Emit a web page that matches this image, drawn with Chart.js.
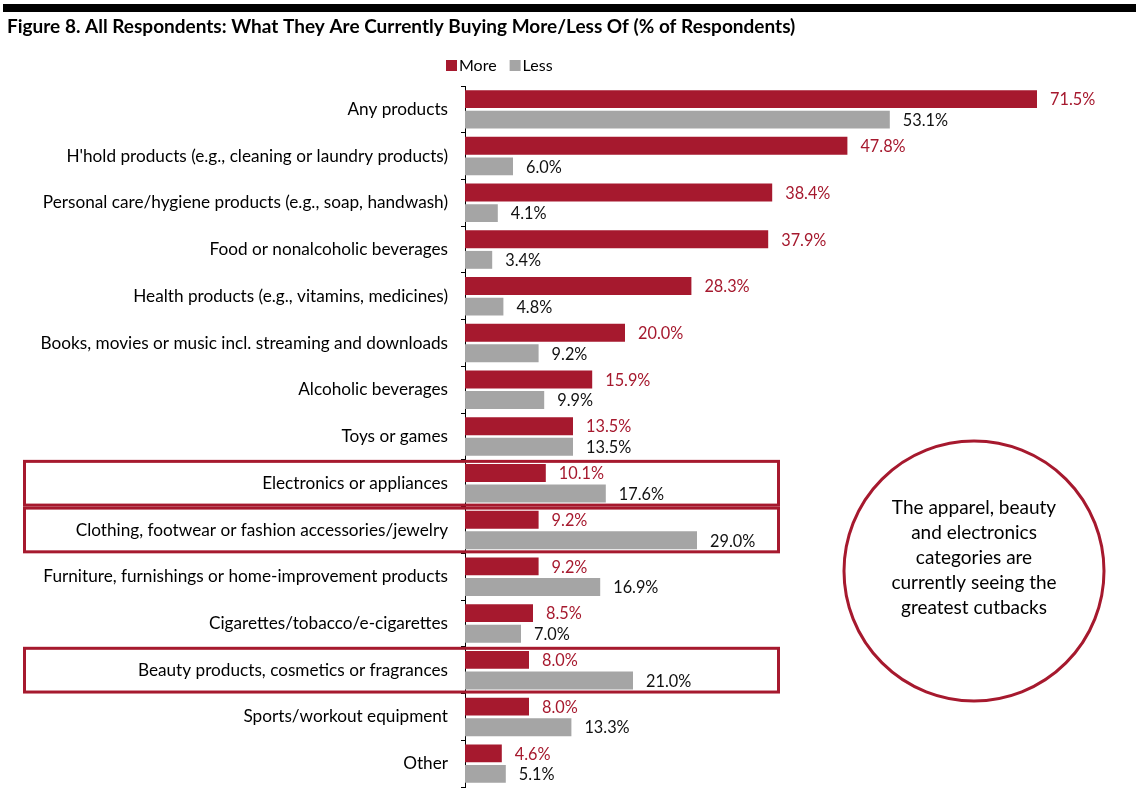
<!DOCTYPE html>
<html>
<head>
<meta charset="utf-8">
<script src="https://cdn.jsdelivr.net/npm/chart.js@4.4.1/dist/chart.umd.min.js"></script>
<style>
  html, body { margin: 0; padding: 0; background: #fff; }
  #wrap { width: 1136px; height: 794px; position: relative; }
</style>
</head>
<body>
<div id="wrap"><canvas id="c" width="1136" height="794"></canvas></div>
<script>
const categories = [
  "Any products",
  "H'hold products (e.g., cleaning or laundry products)",
  "Personal care/hygiene products (e.g., soap, handwash)",
  "Food or nonalcoholic beverages",
  "Health products (e.g., vitamins, medicines)",
  "Books, movies or music incl. streaming and downloads",
  "Alcoholic beverages",
  "Toys or games",
  "Electronics or appliances",
  "Clothing, footwear or fashion accessories/jewelry",
  "Furniture, furnishings or home-improvement products",
  "Cigarettes/tobacco/e-cigarettes",
  "Beauty products, cosmetics or fragrances",
  "Sports/workout equipment",
  "Other"
];
const moreValues = [71.5, 47.8, 38.4, 37.9, 28.3, 20.0, 15.9, 13.5, 10.1, 9.2, 9.2, 8.5, 8.0, 8.0, 4.6];
const lessValues = [53.1, 6.0, 4.1, 3.4, 4.8, 9.2, 9.9, 13.5, 17.6, 29.0, 16.9, 7.0, 21.0, 13.3, 5.1];
const seriesNames = ["More", "Less"];
const highlighted = ["Electronics or appliances", "Clothing, footwear or fashion accessories/jewelry", "Beauty products, cosmetics or fragrances"];
const titleText = "Figure 8. All Respondents: What They Are Currently Buying More/Less Of (% of Respondents)";
const calloutLines = ["The apparel, beauty", "and electronics", "categories are", "currently seeing the", "greatest cutbacks"];

const RED = "#A6192E";
const GRAY = "#A5A5A5";
const FONT = "Lato, 'Open Sans', sans-serif";

const decor = {
  id: 'decor',
  beforeDraw(chart) {
    const ctx = chart.ctx;
    ctx.save();
    ctx.fillStyle = "#000";
    ctx.fillRect(3, 4, 1133, 8);
    ctx.font = "bold 19px " + FONT;
    ctx.fillStyle = "#000";
    ctx.textBaseline = "middle";
    ctx.textAlign = "left";
    ctx.fillText(titleText, 7, 27);
    ctx.font = "16px " + FONT;
    let x = 446;
    const y = 66;
    const colors = [RED, GRAY];
    seriesNames.forEach((n, i) => {
      ctx.fillStyle = colors[i];
      ctx.fillRect(x, y - 6, 11, 11);
      ctx.fillStyle = "#000";
      ctx.fillText(n, x + 13, y);
      x += 13 + ctx.measureText(n).width + 13;
    });
    ctx.restore();
  },
  afterDraw(chart) {
    const ctx = chart.ctx;
    const ys = chart.scales.y;
    ctx.save();
    ctx.font = "16.3px " + FONT;
    ctx.textBaseline = "middle";
    ctx.textAlign = "left";
    chart.data.datasets.forEach((ds, di) => {
      const meta = chart.getDatasetMeta(di);
      meta.data.forEach((bar, i) => {
        ctx.fillStyle = di === 0 ? RED : "#111";
        ctx.fillText(ds.data[i].toFixed(1) + "%", bar.x + 13, bar.y + 1);
      });
    });
    const half = (ys.getPixelForValue(1) - ys.getPixelForValue(0)) / 2;
    ctx.strokeStyle = RED;
    ctx.lineWidth = 3;
    highlighted.forEach(name => {
      const idx = categories.indexOf(name);
      const cy = ys.getPixelForValue(idx);
      ctx.strokeRect(24.5, cy - half + 1.5, 754, 2 * half - 3);
    });
    ctx.beginPath();
    ctx.arc(974, 571, 130, 0, Math.PI * 2);
    ctx.lineWidth = 3;
    ctx.stroke();
    ctx.fillStyle = "#000";
    ctx.textAlign = "center";
    ctx.font = "19px " + FONT;
    calloutLines.forEach((l, i) => ctx.fillText(l, 974, 508 + i * 25));
    ctx.restore();
  }
};

new Chart(document.getElementById('c'), {
  type: 'bar',
  data: {
    labels: categories,
    datasets: [
      { label: seriesNames[0], data: moreValues, backgroundColor: RED, borderWidth: 0, categoryPercentage: 0.88, barPercentage: 0.87 },
      { label: seriesNames[1], data: lessValues, backgroundColor: GRAY, borderWidth: 0, categoryPercentage: 0.88, barPercentage: 0.87 }
    ]
  },
  options: {
    indexAxis: 'y',
    responsive: false,
    animation: false,
    layout: { padding: { top: 86, bottom: 7, right: 15, left: 0 } },
    plugins: { legend: { display: false }, tooltip: { enabled: false }, title: { display: false } },
    scales: {
      x: { display: false, min: 0, max: 82 },
      y: {
        afterFit(scale) { scale.width = 465; scale.paddingTop = 0; scale.paddingBottom = 0; },
        grid: { display: true, drawOnChartArea: false, drawTicks: true, tickLength: 4, color: "#000", offset: true },
        border: { display: true, color: "#000", width: 1 },
        ticks: { color: "#000", padding: 13, font: { family: FONT, size: 17.2 }, autoSkip: false }
      }
    }
  },
  plugins: [decor]
});
</script>
</body>
</html>
